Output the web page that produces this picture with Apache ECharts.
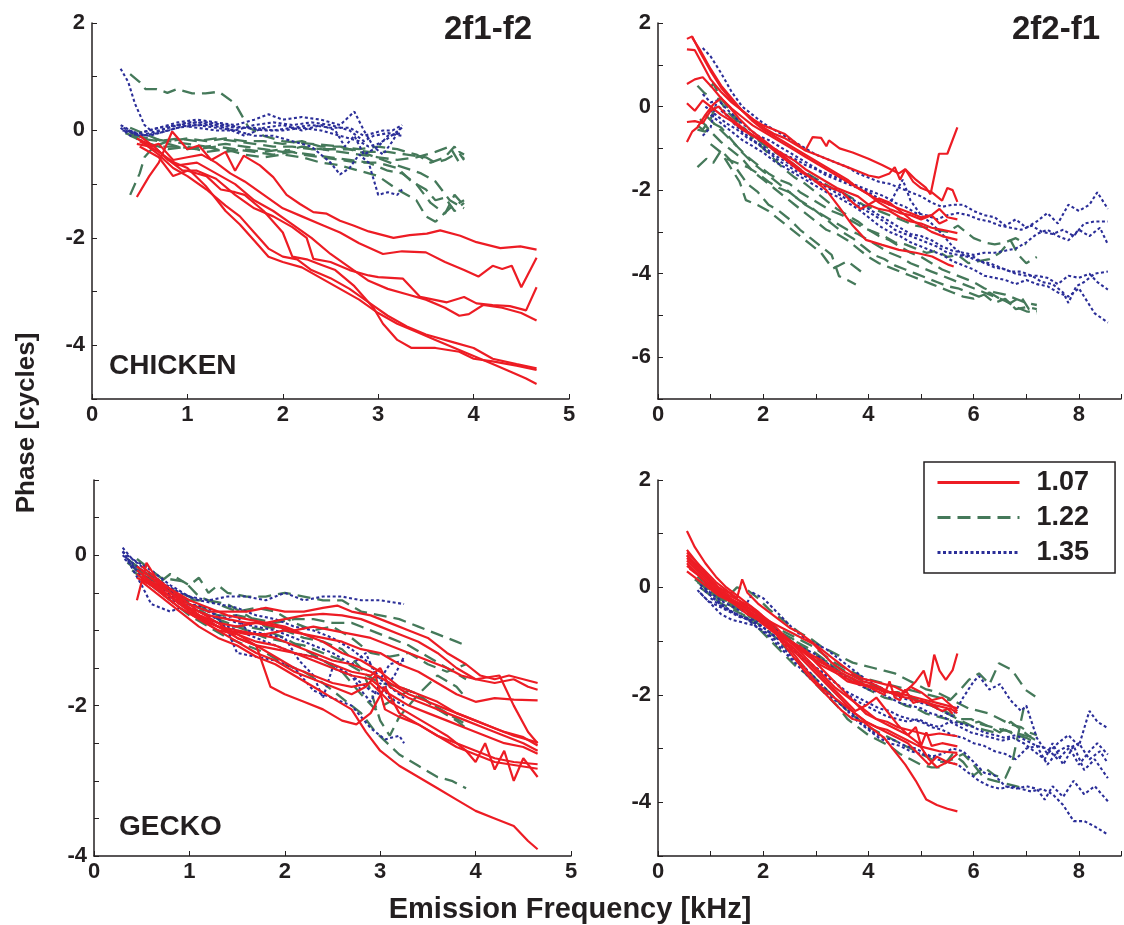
<!DOCTYPE html>
<html>
<head>
<meta charset="utf-8">
<script src="https://cdn.jsdelivr.net/npm/echarts/dist/echarts.min.js"></script>
<style>
    html, body { margin: 0; padding: 0; background: #fff; }
    #chart { width: 1124px; height: 925px; }
</style>
</head>
<body>
<div id="chart"></div>
<script>
// legend names (f2/f1 ratio)
var ratios = ['1.07', '1.22', '1.35'];

// chicken, 2f1-f2  [freq kHz, phase cycles]
var c2f1f2Red = [
    [[0.47,-1.24],[0.6,-0.85],[0.7,-0.6],[0.84,-0.02],[1.0,-0.35],[1.12,-0.28],[1.25,-0.55],[1.4,-0.4],[1.5,-0.75],[1.59,-0.47],[1.76,-0.65],[1.9,-0.87],[2.04,-1.2],[2.18,-1.37],[2.32,-1.52],[2.46,-1.55],[2.6,-1.68],[2.74,-1.77],[2.9,-1.88],[3.16,-2.0],[3.33,-1.95],[3.51,-1.92],[3.65,-1.86],[3.86,-1.96],[4.03,-2.08],[4.28,-2.19],[4.49,-2.16],[4.66,-2.22]],
    [[0.47,-0.25],[0.6,-0.3],[0.7,-0.25],[0.85,-0.55],[1.0,-0.5],[1.15,-0.45],[1.3,-0.6],[1.45,-0.8],[1.6,-0.95],[1.8,-1.2],[2.0,-1.45],[2.2,-1.6],[2.4,-1.75],[2.6,-1.9],[2.8,-2.1],[3.05,-2.3],[3.25,-2.25],[3.5,-2.27],[3.7,-2.45],[3.9,-2.6],[4.05,-2.72],[4.2,-2.52],[4.3,-2.58],[4.4,-2.52],[4.5,-2.92],[4.66,-2.37]],
    [[0.47,-0.15],[0.65,-0.3],[0.8,-0.55],[0.95,-0.75],[1.1,-0.75],[1.3,-0.9],[1.5,-1.2],[1.7,-1.45],[1.9,-1.6],[2.1,-1.8],[2.25,-2.0],[2.32,-2.39],[2.5,-2.45],[2.7,-2.6],[2.9,-2.7],[3.0,-2.73],[3.26,-2.76],[3.44,-3.1],[3.72,-3.2],[3.9,-3.1],[4.03,-3.22],[4.2,-3.25],[4.38,-3.27],[4.55,-3.35],[4.66,-2.92]],
    [[0.5,-0.2],[0.7,-0.4],[0.9,-0.65],[1.1,-0.6],[1.3,-0.8],[1.5,-1.0],[1.7,-1.3],[1.9,-1.5],[2.1,-1.75],[2.3,-2.0],[2.5,-2.3],[2.7,-2.55],[2.9,-2.8],[3.1,-2.95],[3.3,-3.05],[3.5,-3.15],[3.7,-3.3],[3.85,-3.45],[3.95,-3.42],[4.1,-3.25],[4.3,-3.3],[4.5,-3.4],[4.66,-3.54]],
    [[0.5,-0.3],[0.7,-0.5],[0.85,-0.85],[1.0,-0.75],[1.2,-0.85],[1.35,-1.1],[1.5,-1.15],[1.6,-1.2],[1.8,-1.5],[2.0,-1.9],[2.1,-2.35],[2.25,-2.4],[2.4,-2.5],[2.55,-2.6],[2.75,-2.9],[2.95,-3.3],[3.05,-3.6],[3.2,-3.9],[3.35,-4.05],[3.6,-4.05],[3.85,-4.12],[4.0,-4.25],[4.2,-4.3],[4.45,-4.38],[4.66,-4.46]],
    [[0.55,-0.25],[0.7,-0.45],[0.85,-0.7],[1.0,-0.85],[1.2,-1.1],[1.4,-1.4],[1.55,-1.6],[1.7,-1.9],[1.85,-2.2],[2.0,-2.35],[2.15,-2.4],[2.3,-2.6],[2.5,-2.75],[2.7,-2.95],[2.9,-3.2],[3.1,-3.45],[3.3,-3.65],[3.5,-3.8],[3.8,-3.95],[4.0,-4.05],[4.2,-4.25],[4.45,-4.35],[4.66,-4.43]],
    [[0.5,-0.1],[0.65,-0.3],[0.8,-0.55],[1.0,-0.7],[1.2,-1.05],[1.4,-1.5],[1.55,-1.75],[1.7,-2.05],[1.85,-2.35],[2.0,-2.45],[2.2,-2.55],[2.4,-2.75],[2.6,-2.95],[2.8,-3.15],[3.0,-3.4],[3.2,-3.6],[3.4,-3.75],[3.6,-3.9],[3.8,-4.05],[4.0,-4.2],[4.2,-4.35],[4.4,-4.5],[4.55,-4.62],[4.66,-4.72]]
];
var c2f1f2Green = [
    [[0.4,1.05],[0.5,0.9],[0.56,0.77],[0.68,0.77],[0.79,0.7],[0.89,0.77],[1.05,0.69],[1.19,0.69],[1.33,0.72],[1.5,0.5],[1.64,0.06],[1.8,-0.1],[2.0,-0.2],[2.3,-0.25],[2.6,-0.3],[2.9,-0.45],[3.2,-0.65],[3.45,-0.8],[3.6,-0.95],[3.75,-1.3],[3.9,-1.45]],
    [[0.4,-1.2],[0.5,-0.8],[0.55,-0.5],[0.65,-0.3],[0.8,-0.2],[1.0,-0.25],[1.2,-0.3],[1.4,-0.25],[1.6,-0.3],[1.8,-0.35],[2.0,-0.4],[2.2,-0.3],[2.4,-0.35],[2.6,-0.4],[2.8,-0.45],[3.0,-0.5],[3.2,-0.55],[3.4,-0.5],[3.6,-0.4],[3.75,-0.3],[3.85,-0.6],[3.9,-0.5]],
    [[0.35,-0.05],[0.5,-0.15],[0.7,-0.2],[0.9,-0.15],[1.1,-0.2],[1.3,-0.15],[1.5,-0.2],[1.7,-0.25],[1.9,-0.3],[2.1,-0.3],[2.3,-0.35],[2.5,-0.35],[2.7,-0.35],[2.9,-0.4],[3.1,-0.4],[3.3,-0.45],[3.5,-0.5],[3.6,-0.6],[3.7,-0.55],[3.85,-0.4],[3.9,-0.45]],
    [[0.38,0.0],[0.5,-0.2],[0.7,-0.3],[0.9,-0.3],[1.1,-0.35],[1.3,-0.3],[1.5,-0.35],[1.7,-0.4],[1.9,-0.45],[2.1,-0.4],[2.3,-0.45],[2.5,-0.5],[2.7,-0.55],[2.9,-0.6],[3.1,-0.75],[3.25,-0.8],[3.4,-1.0],[3.55,-1.35],[3.7,-1.55],[3.8,-1.2],[3.9,-1.4]],
    [[0.4,-0.1],[0.6,-0.25],[0.8,-0.35],[1.0,-0.3],[1.2,-0.4],[1.4,-0.35],[1.6,-0.45],[1.8,-0.5],[2.0,-0.45],[2.2,-0.5],[2.4,-0.6],[2.6,-0.65],[2.8,-0.75],[3.0,-0.85],[3.2,-1.1],[3.4,-1.3],[3.5,-1.6],[3.6,-1.7],[3.75,-1.45],[3.9,-1.3]],
    [[0.45,-0.1],[0.6,-0.15],[0.8,-0.2],[1.0,-0.15],[1.2,-0.2],[1.4,-0.15],[1.6,-0.2],[1.8,-0.2],[2.0,-0.25],[2.2,-0.2],[2.4,-0.3],[2.6,-0.3],[2.8,-0.35],[3.0,-0.3],[3.2,-0.35],[3.4,-0.45],[3.55,-0.6],[3.7,-0.5],[3.8,-0.3],[3.9,-0.55]],
    [[0.4,0.05],[0.6,-0.1],[0.8,-0.25],[1.0,-0.35],[1.2,-0.3],[1.4,-0.4],[1.6,-0.35],[1.8,-0.4],[2.0,-0.35],[2.2,-0.45],[2.4,-0.5],[2.6,-0.55],[2.8,-0.6],[3.0,-0.6],[3.2,-0.7],[3.35,-0.95],[3.5,-1.1],[3.6,-1.3],[3.7,-1.25],[3.8,-1.5],[3.9,-1.35]]
];
var c2f1f2Blue = [
    [[0.3,1.15],[0.38,0.9],[0.45,0.5],[0.55,0.1],[0.65,-0.05],[0.8,0.05],[1.0,0.15],[1.2,0.15],[1.4,0.1],[1.6,0.05],[1.8,0.0],[2.0,0.0],[2.2,0.05],[2.4,0.0],[2.6,-0.1],[2.8,-0.2],[2.9,-0.3],[3.0,-0.25],[3.1,-0.15],[3.25,0.05]],
    [[0.3,0.05],[0.4,-0.1],[0.5,-0.05],[0.7,0.05],[0.9,0.15],[1.1,0.2],[1.3,0.15],[1.5,0.1],[1.7,0.2],[1.85,0.3],[2.0,0.2],[2.2,0.25],[2.4,0.2],[2.6,0.1],[2.75,0.35],[2.85,0.0],[2.95,-0.3],[3.05,-0.45],[3.15,-0.2],[3.25,0.1]],
    [[0.3,0.1],[0.45,-0.05],[0.6,-0.1],[0.8,0.0],[1.0,0.1],[1.2,0.1],[1.4,0.05],[1.6,-0.1],[1.8,0.05],[2.0,0.1],[2.2,0.0],[2.4,0.1],[2.55,0.0],[2.65,-0.3],[2.75,-0.1],[2.85,-0.45],[3.0,-0.3],[3.1,-0.1],[3.25,-0.05]],
    [[0.35,0.0],[0.5,-0.1],[0.7,0.0],[0.9,0.1],[1.1,0.05],[1.3,0.0],[1.5,0.0],[1.7,-0.1],[1.9,-0.1],[2.1,-0.2],[2.3,-0.3],[2.5,-0.6],[2.6,-0.82],[2.7,-0.7],[2.8,-0.45],[2.9,-0.6],[3.0,-1.2],[3.1,-1.15],[3.2,-1.2],[3.25,-1.1]],
    [[0.32,0.0],[0.5,-0.05],[0.7,0.05],[0.9,0.1],[1.1,0.15],[1.3,0.1],[1.5,0.05],[1.7,0.05],[1.9,0.0],[2.1,0.05],[2.3,0.1],[2.5,0.05],[2.7,0.05],[2.85,-0.1],[2.95,-0.05],[3.05,0.0],[3.15,0.0],[3.25,0.1]],
    [[0.33,0.05],[0.5,-0.1],[0.7,-0.05],[0.9,0.05],[1.1,0.1],[1.3,0.05],[1.5,0.0],[1.7,0.1],[1.9,0.15],[2.1,0.1],[2.3,0.15],[2.5,0.1],[2.7,0.0],[2.85,-0.2],[2.95,-0.1],[3.1,-0.05],[3.25,-0.1]]
];

// chicken, 2f2-f1
var c2f2f1Red = [
    [[0.55,1.62],[0.65,1.68],[0.8,1.3],[1.0,0.85],[1.2,0.45],[1.4,0.15],[1.6,-0.1],[1.8,-0.3],[2.0,-0.5],[2.2,-0.65],[2.4,-0.75],[2.6,-0.9],[2.8,-1.05],[2.94,-0.73],[3.1,-0.75],[3.2,-0.95],[3.25,-0.81],[3.45,-1.0],[3.7,-1.1],[4.0,-1.25],[4.26,-1.4],[4.58,-1.6],[4.7,-1.5],[4.9,-1.75],[5.09,-1.94],[5.18,-2.1],[5.34,-1.13],[5.5,-1.13],[5.69,-0.5]],
    [[0.55,1.37],[0.7,1.35],[0.85,1.0],[1.0,0.65],[1.2,0.35],[1.4,0.1],[1.6,-0.1],[1.8,-0.3],[2.0,-0.45],[2.2,-0.55],[2.4,-0.65],[2.6,-0.85],[2.8,-1.05],[3.0,-1.15],[3.2,-1.25],[3.4,-1.35],[3.6,-1.45],[3.8,-1.55],[4.0,-1.65],[4.2,-1.7],[4.4,-1.6],[4.5,-1.45],[4.6,-1.75],[4.7,-1.5],[4.85,-1.8],[5.0,-1.95],[5.2,-2.05],[5.4,-2.25],[5.5,-1.95],[5.6,-2.0],[5.69,-2.28]],
    [[0.55,0.54],[0.7,0.65],[0.85,0.7],[1.0,0.5],[1.2,0.2],[1.4,-0.05],[1.6,-0.25],[1.8,-0.45],[2.0,-0.6],[2.2,-0.75],[2.4,-0.9],[2.6,-1.05],[2.8,-1.2],[3.0,-1.35],[3.2,-1.5],[3.4,-1.65],[3.6,-1.8],[3.8,-1.95],[4.0,-2.1],[4.2,-2.25],[4.4,-2.35],[4.6,-2.45],[4.8,-2.55],[5.0,-2.65],[5.2,-2.6],[5.35,-2.45],[5.5,-2.65],[5.69,-2.7]],
    [[0.55,0.08],[0.7,-0.1],[0.85,0.15],[1.0,0.0],[1.2,-0.2],[1.4,-0.35],[1.6,-0.55],[1.8,-0.7],[2.0,-0.85],[2.2,-1.0],[2.4,-1.15],[2.6,-1.3],[2.8,-1.5],[3.0,-1.65],[3.2,-1.8],[3.4,-1.95],[3.6,-2.05],[3.8,-2.15],[4.0,-2.35],[4.2,-2.45],[4.4,-2.5],[4.6,-2.65],[4.8,-2.75],[5.0,-2.8],[5.2,-2.9],[5.4,-2.95],[5.69,-3.03]],
    [[0.55,-0.37],[0.7,-0.35],[0.85,-0.4],[1.0,-0.1],[1.15,0.0],[1.3,-0.2],[1.5,-0.4],[1.7,-0.6],[1.9,-0.75],[2.1,-0.95],[2.3,-1.15],[2.5,-1.35],[2.7,-1.55],[2.9,-1.7],[3.1,-1.85],[3.3,-1.95],[3.5,-2.05],[3.7,-2.3],[3.85,-2.45],[4.0,-2.35],[4.2,-2.2],[4.4,-2.3],[4.6,-2.5],[4.8,-2.7],[5.0,-2.85],[5.2,-3.0],[5.4,-3.1],[5.69,-3.19]],
    [[0.55,-0.85],[0.65,-0.6],[0.75,-0.5],[0.9,-0.2],[1.05,0.05],[1.2,0.2],[1.35,0.0],[1.55,-0.3],[1.75,-0.55],[2.0,-0.8],[2.25,-1.05],[2.5,-1.3],[2.75,-1.55],[3.0,-1.8],[3.2,-2.0],[3.44,-2.4],[3.7,-2.85],[3.95,-3.19],[4.26,-3.31],[4.58,-3.43],[4.9,-3.5],[5.21,-3.59],[5.53,-3.79],[5.62,-3.83]],
    [[0.65,1.65],[0.8,1.35],[1.0,0.9],[1.2,0.5],[1.4,0.2],[1.6,-0.1],[1.8,-0.35],[2.0,-0.55],[2.2,-0.7],[2.4,-0.85],[2.6,-1.0],[2.8,-1.15],[3.0,-1.3],[3.2,-1.45],[3.4,-1.6],[3.6,-1.75],[3.8,-1.95],[4.0,-2.1],[4.2,-2.3],[4.4,-2.45],[4.6,-2.55],[4.8,-2.6],[5.0,-2.7],[5.2,-2.6],[5.35,-2.8],[5.5,-2.71]]
];
var c2f2f1Green = [
    [[0.75,0.5],[0.9,0.3],[1.05,0.55],[1.2,0.2],[1.4,-0.15],[1.6,-0.45],[1.8,-0.75],[2.0,-1.0],[2.2,-1.25],[2.4,-1.5],[2.6,-1.7],[2.8,-1.85],[3.0,-2.05],[3.2,-2.25],[3.4,-2.45],[3.6,-2.6],[3.8,-2.75],[4.0,-2.95],[4.2,-3.1],[4.4,-3.2],[4.6,-3.35],[4.8,-3.5],[5.0,-3.6],[5.2,-3.75],[5.4,-3.9],[5.6,-4.0],[5.8,-4.1],[6.0,-4.2],[6.2,-4.35],[6.4,-4.45],[6.6,-4.5],[6.8,-4.6],[7.0,-4.7],[7.2,-4.75]],
    [[0.75,-0.45],[0.85,-0.55],[1.0,-0.3],[1.15,0.2],[1.3,-0.1],[1.5,-0.35],[1.7,-0.6],[1.9,-0.8],[2.1,-1.0],[2.3,-1.15],[2.5,-1.3],[2.7,-1.5],[2.9,-1.65],[3.1,-1.8],[3.3,-1.95],[3.5,-2.05],[3.7,-2.2],[3.9,-2.35],[4.1,-2.45],[4.3,-2.55],[4.5,-2.65],[4.7,-2.75],[4.9,-2.85],[5.1,-2.9],[5.3,-2.95],[5.5,-3.0],[5.7,-2.85],[5.85,-3.0],[6.0,-3.15],[6.2,-3.25],[6.4,-3.3],[6.6,-3.25],[6.8,-3.15],[7.0,-3.3]],
    [[0.75,-0.55],[0.9,-0.6],[1.05,-0.4],[1.2,-0.5],[1.4,-0.8],[1.6,-1.1],[1.8,-1.35],[2.0,-1.55],[2.2,-1.75],[2.4,-1.95],[2.6,-2.15],[2.8,-2.35],[3.0,-2.5],[3.2,-2.65],[3.4,-2.8],[3.6,-2.95],[3.8,-3.05],[4.0,-3.2],[4.2,-3.35],[4.4,-3.5],[4.6,-3.6],[4.8,-3.75],[5.0,-3.85],[5.2,-3.95],[5.4,-4.05],[5.6,-4.15],[5.8,-4.25],[6.0,-4.35],[6.2,-4.45],[6.4,-4.55],[6.6,-4.65],[6.8,-4.8],[7.0,-4.9],[7.2,-4.95]],
    [[0.75,-1.45],[0.92,-1.25],[1.05,-1.35],[1.2,-1.05],[1.35,-1.25],[1.5,-1.5],[1.7,-1.85],[1.9,-2.05],[2.1,-2.35],[2.3,-2.5],[2.5,-2.7],[2.7,-2.95],[2.9,-3.15],[3.1,-3.35],[3.3,-3.55],[3.44,-4.06],[3.6,-4.15],[3.76,-4.26]],
    [[1.0,-0.9],[1.2,-1.1],[1.4,-1.5],[1.55,-1.8],[1.67,-2.24],[1.9,-2.36],[2.1,-2.5],[2.3,-2.7],[2.5,-2.9],[2.7,-3.1],[2.9,-3.3],[3.1,-3.5],[3.32,-3.88],[3.45,-3.8],[3.6,-3.7],[3.89,-3.98]],
    [[0.8,-0.3],[1.0,-0.6],[1.2,-0.85],[1.4,-1.05],[1.6,-1.25],[1.8,-1.55],[2.0,-1.75],[2.2,-1.95],[2.4,-2.15],[2.6,-2.35],[2.8,-2.55],[3.0,-2.75],[3.2,-2.95],[3.4,-3.05],[3.6,-3.2],[3.8,-3.4],[4.0,-3.6],[4.2,-3.75],[4.4,-3.85],[4.6,-3.95],[4.8,-4.05],[5.0,-4.15],[5.2,-4.25],[5.4,-4.35],[5.6,-4.45],[5.8,-4.55],[6.0,-4.6],[6.2,-4.5],[6.4,-4.7],[6.6,-4.6],[6.8,-4.85],[7.0,-4.8],[7.2,-4.85]],
    [[0.9,-0.2],[1.1,-0.45],[1.3,-0.7],[1.5,-0.95],[1.7,-1.2],[1.9,-1.4],[2.1,-1.6],[2.3,-1.75],[2.5,-1.85],[2.7,-2.05],[2.9,-2.2],[3.1,-2.35],[3.3,-2.5],[3.5,-2.6],[3.7,-2.75],[3.9,-2.9],[4.1,-3.0],[4.3,-3.1],[4.5,-3.25],[4.7,-3.3],[4.9,-3.4],[5.1,-3.5],[5.3,-3.45],[5.5,-3.6],[5.7,-3.55],[5.9,-3.75],[6.1,-3.7],[6.3,-3.65],[6.5,-3.5],[6.7,-3.2],[6.85,-3.55],[7.0,-3.75],[7.2,-3.6]],
    [[1.3,-1.25],[1.5,-1.35],[1.7,-1.45],[1.9,-1.6],[2.1,-1.8],[2.3,-1.95],[2.5,-2.05],[2.7,-2.25],[2.9,-2.4],[3.1,-2.6],[3.3,-2.8],[3.5,-3.0],[3.7,-3.15],[3.9,-3.35],[4.1,-3.55],[4.3,-3.65],[4.5,-3.8],[4.7,-3.9],[4.9,-4.0],[5.1,-4.1],[5.3,-4.2],[5.5,-4.3],[5.7,-4.35],[5.9,-4.45],[6.1,-4.55],[6.3,-4.45],[6.5,-4.6],[6.7,-4.7],[6.9,-4.55],[7.05,-4.85],[7.2,-4.9]]
];
var c2f2f1Blue = [
    [[0.85,1.4],[1.0,1.2],[1.2,0.8],[1.4,0.35],[1.6,0.0],[1.8,-0.2],[2.0,-0.4],[2.2,-0.55],[2.4,-0.7],[2.6,-0.85],[2.8,-1.0],[3.0,-1.15],[3.2,-1.25],[3.4,-1.35],[3.6,-1.45],[3.8,-1.6],[4.0,-1.7],[4.2,-1.8],[4.4,-1.85],[4.6,-1.95],[4.8,-2.05],[5.0,-2.15],[5.2,-2.3],[5.4,-2.4],[5.6,-2.35],[5.8,-2.35],[6.0,-2.5],[6.2,-2.6],[6.4,-2.65],[6.6,-2.85],[6.8,-2.7],[7.0,-2.9],[7.2,-2.75],[7.4,-2.55],[7.6,-2.8],[7.8,-2.35],[8.0,-2.5],[8.2,-2.35],[8.35,-2.05],[8.55,-2.45]],
    [[0.85,0.3],[1.0,0.1],[1.15,0.15],[1.3,-0.05],[1.5,-0.3],[1.7,-0.5],[1.9,-0.7],[2.1,-0.8],[2.3,-0.95],[2.5,-1.1],[2.7,-1.25],[2.9,-1.4],[3.1,-1.55],[3.3,-1.65],[3.5,-1.75],[3.7,-1.85],[3.9,-1.95],[4.1,-2.05],[4.3,-2.15],[4.5,-2.3],[4.7,-2.4],[4.9,-2.55],[5.1,-2.6],[5.3,-2.7],[5.5,-2.6],[5.7,-2.55],[5.9,-2.6],[6.1,-2.7],[6.3,-2.75],[6.5,-2.85],[6.7,-2.9],[6.9,-2.95],[7.1,-2.85],[7.3,-3.0],[7.5,-3.05],[7.7,-2.95],[7.9,-3.1],[8.1,-2.8],[8.3,-2.75],[8.55,-2.75]],
    [[0.85,-0.7],[1.0,-0.5],[1.1,0.05],[1.25,-0.1],[1.4,-0.35],[1.6,-0.6],[1.8,-0.8],[2.0,-0.95],[2.2,-1.15],[2.4,-1.3],[2.6,-1.45],[2.8,-1.6],[3.0,-1.75],[3.2,-1.9],[3.4,-2.0],[3.6,-2.15],[3.8,-2.3],[4.0,-2.45],[4.2,-2.6],[4.4,-2.75],[4.6,-2.9],[4.8,-3.05],[5.0,-3.1],[5.2,-3.2],[5.4,-3.35],[5.6,-3.45],[5.8,-3.5],[6.0,-3.55],[6.2,-3.5],[6.4,-3.5],[6.6,-3.45],[6.8,-3.4],[7.0,-3.25],[7.2,-3.05],[7.4,-2.95],[7.6,-3.1],[7.8,-3.2],[8.0,-2.95],[8.2,-3.1],[8.4,-2.9],[8.55,-3.3]],
    [[0.9,0.0],[1.1,-0.2],[1.3,-0.4],[1.5,-0.55],[1.7,-0.75],[1.9,-0.9],[2.1,-1.1],[2.3,-1.3],[2.5,-1.45],[2.7,-1.6],[2.9,-1.75],[3.1,-1.85],[3.3,-2.0],[3.5,-2.15],[3.7,-2.3],[3.9,-2.45],[4.1,-2.6],[4.3,-2.75],[4.5,-2.95],[4.7,-3.05],[4.9,-3.15],[5.1,-3.25],[5.3,-3.35],[5.5,-3.5],[5.7,-3.55],[5.9,-3.6],[6.1,-3.7],[6.3,-3.75],[6.5,-3.85],[6.7,-3.95],[6.9,-3.95],[7.1,-4.05],[7.3,-4.2],[7.5,-4.25],[7.7,-4.45],[7.8,-4.7],[7.95,-4.3],[8.1,-4.2],[8.3,-4.0],[8.55,-3.95]],
    [[1.0,-0.2],[1.2,-0.4],[1.4,-0.6],[1.6,-0.8],[1.8,-0.95],[2.0,-1.1],[2.2,-1.3],[2.4,-1.45],[2.6,-1.6],[2.8,-1.75],[3.0,-1.9],[3.2,-2.05],[3.4,-2.15],[3.6,-2.3],[3.8,-2.45],[4.0,-2.65],[4.2,-2.85],[4.4,-3.0],[4.6,-3.1],[4.8,-3.25],[5.0,-3.35],[5.2,-3.45],[5.4,-3.55],[5.6,-3.7],[5.8,-3.8],[6.0,-3.9],[6.2,-4.05],[6.4,-4.1],[6.6,-4.15],[6.8,-4.25],[7.0,-4.15],[7.2,-4.25],[7.4,-4.3],[7.6,-4.45],[7.8,-4.55],[8.0,-4.35],[8.15,-4.65],[8.3,-4.95],[8.55,-5.17]],
    [[1.2,-0.1],[1.4,-0.3],[1.6,-0.5],[1.8,-0.7],[2.0,-0.85],[2.2,-1.0],[2.4,-1.15],[2.6,-1.25],[2.8,-1.4],[3.0,-1.5],[3.2,-1.65],[3.4,-1.75],[3.6,-1.85],[3.8,-1.95],[4.0,-2.05],[4.2,-2.2],[4.4,-2.35],[4.5,-2.1],[4.65,-1.75],[4.8,-2.25],[5.0,-2.6],[5.2,-2.8],[5.4,-3.05],[5.6,-3.35],[5.8,-3.55],[6.0,-3.6],[6.2,-3.75],[6.4,-3.85],[6.6,-3.9],[6.8,-4.0],[7.0,-4.05],[7.2,-4.05],[7.4,-4.1],[7.6,-4.25],[7.8,-4.05],[8.0,-4.1],[8.2,-4.0],[8.35,-4.2],[8.55,-4.38]]
];

// gecko, 2f1-f2
var g2f1f2Red = [
    [[0.45,-0.2],[0.6,-0.35],[0.8,-0.5],[1.0,-0.65],[1.2,-0.75],[1.4,-0.75],[1.6,-0.75],[1.8,-0.7],[2.0,-0.75],[2.2,-0.75],[2.4,-0.7],[2.55,-0.67],[2.7,-0.75],[2.9,-0.8],[3.1,-0.9],[3.3,-1.0],[3.5,-1.1],[3.7,-1.3],[3.9,-1.45],[4.05,-1.6],[4.2,-1.65],[4.35,-1.6],[4.5,-1.65],[4.65,-1.7]],
    [[0.45,-0.25],[0.6,-0.4],[0.8,-0.55],[1.0,-0.7],[1.2,-0.8],[1.4,-0.85],[1.6,-0.9],[1.8,-0.9],[2.0,-0.85],[2.2,-0.8],[2.4,-0.78],[2.6,-0.8],[2.8,-0.85],[3.0,-0.95],[3.2,-1.05],[3.4,-1.15],[3.6,-1.3],[3.8,-1.5],[4.0,-1.65],[4.2,-1.7],[4.4,-1.65],[4.55,-1.75],[4.65,-1.79]],
    [[0.45,-0.3],[0.6,-0.4],[0.8,-0.55],[1.0,-0.75],[1.2,-0.9],[1.4,-1.0],[1.6,-1.05],[1.8,-1.05],[2.0,-1.0],[2.2,-1.05],[2.4,-1.1],[2.6,-1.15],[2.8,-1.25],[3.0,-1.3],[3.2,-1.45],[3.4,-1.55],[3.6,-1.7],[3.8,-1.85],[4.0,-1.95],[4.2,-1.9],[4.4,-1.92],[4.65,-1.93]],
    [[0.5,-0.2],[0.7,-0.4],[0.9,-0.6],[1.1,-0.8],[1.3,-0.9],[1.5,-0.95],[1.7,-0.9],[1.9,-0.95],[2.1,-1.0],[2.3,-0.95],[2.5,-1.0],[2.7,-1.05],[2.9,-1.1],[3.1,-1.2],[3.3,-1.3],[3.5,-1.4],[3.7,-1.5],[3.85,-1.6],[4.0,-1.65],[4.25,-1.6],[4.4,-2.0],[4.55,-2.35],[4.65,-2.5]],
    [[0.5,-0.2],[0.7,-0.4],[0.9,-0.6],[1.1,-0.8],[1.3,-0.95],[1.5,-1.0],[1.7,-1.05],[1.9,-1.1],[2.1,-1.2],[2.3,-1.3],[2.5,-1.4],[2.7,-1.45],[2.9,-1.55],[3.1,-1.7],[3.3,-1.85],[3.5,-1.95],[3.7,-2.05],[3.9,-2.15],[4.1,-2.25],[4.3,-2.35],[4.5,-2.42],[4.65,-2.53]],
    [[0.5,-0.15],[0.7,-0.35],[0.9,-0.55],[1.1,-0.75],[1.3,-0.9],[1.5,-1.1],[1.7,-1.2],[1.9,-1.25],[2.1,-1.3],[2.3,-1.35],[2.5,-1.45],[2.7,-1.55],[2.9,-1.6],[3.0,-1.5],[3.1,-1.75],[3.3,-1.9],[3.5,-2.0],[3.7,-2.1],[3.9,-2.2],[4.1,-2.3],[4.3,-2.4],[4.5,-2.5],[4.65,-2.6]],
    [[0.5,-0.3],[0.7,-0.45],[0.9,-0.65],[1.1,-0.8],[1.3,-0.95],[1.5,-1.05],[1.7,-1.15],[1.9,-1.2],[2.1,-1.3],[2.3,-1.4],[2.5,-1.5],[2.7,-1.6],[2.9,-1.65],[3.1,-1.85],[3.3,-2.0],[3.5,-2.1],[3.7,-2.2],[3.9,-2.3],[4.1,-2.4],[4.3,-2.5],[4.5,-2.55],[4.65,-2.64]],
    [[0.5,-0.25],[0.7,-0.5],[0.9,-0.7],[1.1,-0.85],[1.3,-1.0],[1.5,-1.15],[1.7,-1.3],[1.9,-1.4],[2.1,-1.55],[2.3,-1.65],[2.5,-1.75],[2.7,-1.85],[2.85,-1.75],[2.95,-1.6],[3.05,-2.05],[3.2,-2.15],[3.4,-2.25],[3.6,-2.4],[3.8,-2.5],[4.0,-2.6],[4.2,-2.7],[4.4,-2.75],[4.65,-2.78]],
    [[0.45,-0.6],[0.55,-0.1],[0.7,-0.4],[0.9,-0.6],[1.1,-0.8],[1.3,-0.95],[1.5,-1.1],[1.7,-1.2],[1.9,-1.35],[2.1,-1.5],[2.3,-1.6],[2.5,-1.7],[2.7,-1.75],[2.9,-1.7],[3.1,-1.95],[3.3,-2.1],[3.5,-2.25],[3.7,-2.4],[3.9,-2.6],[4.0,-2.75],[4.1,-2.5],[4.2,-2.85],[4.3,-2.6],[4.4,-3.0],[4.5,-2.7],[4.65,-2.95]],
    [[0.5,-0.3],[0.7,-0.5],[0.9,-0.7],[1.1,-0.85],[1.3,-1.0],[1.5,-1.05],[1.7,-1.2],[1.85,-1.75],[2.0,-1.85],[2.2,-1.95],[2.4,-2.05],[2.6,-2.2],[2.75,-2.25],[2.9,-2.1],[3.05,-1.75],[3.2,-2.1],[3.4,-2.25],[3.6,-2.4],[3.8,-2.55],[4.0,-2.65],[4.2,-2.75],[4.45,-2.8],[4.65,-2.84]],
    [[0.5,-0.35],[0.7,-0.55],[0.9,-0.75],[1.1,-0.95],[1.3,-1.1],[1.5,-1.2],[1.7,-1.35],[1.9,-1.45],[2.1,-1.6],[2.3,-1.75],[2.5,-1.9],[2.7,-2.05],[2.85,-2.35],[3.0,-2.6],[3.2,-2.8],[3.4,-2.95],[3.6,-3.1],[3.8,-3.25],[4.0,-3.4],[4.2,-3.5],[4.4,-3.6],[4.55,-3.8],[4.65,-3.91]],
    [[0.45,-0.15],[0.6,-0.3],[0.8,-0.45],[1.0,-0.6],[1.2,-0.7],[1.4,-0.8],[1.6,-0.85],[1.8,-0.9],[2.0,-0.95],[2.2,-1.05],[2.4,-1.15],[2.6,-1.3],[2.8,-1.4],[3.0,-1.55],[3.2,-1.75],[3.4,-1.85],[3.6,-1.95],[3.8,-2.1],[4.0,-2.2],[4.2,-2.3],[4.4,-2.4],[4.65,-2.49]]
];
var g2f1f2Green = [
    [[0.35,-0.05],[0.5,-0.2],[0.7,-0.35],[0.8,-0.25],[1.0,-0.4],[1.1,-0.3],[1.2,-0.5],[1.3,-0.4],[1.4,-0.5],[1.6,-0.55],[1.8,-0.55],[2.0,-0.5],[2.2,-0.55],[2.4,-0.6],[2.6,-0.6],[2.8,-0.75],[3.0,-0.8],[3.2,-0.85],[3.4,-0.95],[3.6,-1.05],[3.8,-1.15],[3.9,-1.2]],
    [[0.35,-0.1],[0.5,-0.25],[0.7,-0.4],[0.9,-0.55],[1.1,-0.7],[1.3,-0.8],[1.5,-0.8],[1.7,-0.85],[1.9,-0.9],[2.1,-0.85],[2.3,-0.85],[2.5,-0.9],[2.7,-0.9],[2.9,-1.0],[3.1,-1.1],[3.3,-1.2],[3.5,-1.35],[3.7,-1.5],[3.9,-1.65]],
    [[0.4,-0.15],[0.6,-0.3],[0.8,-0.5],[1.0,-0.65],[1.2,-0.8],[1.4,-0.9],[1.6,-1.0],[1.8,-1.1],[2.0,-1.15],[2.2,-1.2],[2.4,-1.3],[2.6,-1.4],[2.8,-1.55],[3.0,-1.7],[3.2,-1.75],[3.4,-1.85],[3.6,-2.05],[3.8,-2.2],[3.9,-2.3]],
    [[0.4,-0.2],[0.6,-0.4],[0.8,-0.6],[1.0,-0.8],[1.2,-0.95],[1.4,-1.1],[1.6,-1.2],[1.8,-1.3],[2.0,-1.45],[2.2,-1.55],[2.4,-1.7],[2.6,-1.9],[2.8,-2.1],[2.95,-2.35],[3.2,-2.65],[3.4,-2.8],[3.6,-2.95],[3.75,-3.0],[3.9,-3.1]],
    [[0.45,-0.2],[0.6,-0.35],[0.8,-0.5],[1.0,-0.6],[1.2,-0.6],[1.4,-0.65],[1.6,-0.8],[1.8,-0.95],[2.0,-1.0],[2.2,-1.1],[2.4,-1.15],[2.6,-1.25],[2.8,-1.5],[2.9,-1.8],[3.0,-2.2],[3.1,-2.4],[3.2,-2.15],[3.4,-1.85],[3.6,-1.6],[3.8,-1.75],[3.9,-1.9]],
    [[0.4,-0.1],[0.6,-0.3],[0.8,-0.45],[1.0,-0.55],[1.2,-0.75],[1.4,-0.95],[1.6,-0.95],[1.8,-1.0],[2.0,-1.1],[2.2,-1.25],[2.4,-1.4],[2.6,-1.55],[2.8,-1.85],[2.95,-2.05],[3.1,-1.95],[3.3,-1.8],[3.5,-1.95],[3.7,-2.1],[3.9,-2.25]],
    [[0.45,-0.05],[0.7,-0.3],[0.95,-0.35],[1.1,-0.55],[1.3,-0.65],[1.5,-0.75],[1.7,-0.7],[1.9,-0.75],[2.1,-0.9],[2.3,-1.0],[2.5,-0.95],[2.7,-1.1],[2.9,-1.3],[3.1,-1.35],[3.3,-1.3],[3.5,-1.45],[3.7,-1.55],[3.9,-1.45]]
];
var g2f1f2Blue = [
    [[0.3,0.1],[0.4,-0.05],[0.6,-0.2],[0.8,-0.4],[1.0,-0.55],[1.2,-0.6],[1.4,-0.55],[1.6,-0.55],[1.8,-0.6],[2.0,-0.5],[2.2,-0.6],[2.4,-0.55],[2.6,-0.55],[2.8,-0.6],[3.0,-0.6],[3.25,-0.65]],
    [[0.3,0.05],[0.5,-0.4],[0.6,-0.65],[0.8,-0.75],[1.0,-0.65],[1.2,-0.7],[1.4,-1.0],[1.5,-1.3],[1.7,-1.35],[1.9,-1.4],[2.1,-1.5],[2.3,-1.8],[2.5,-1.9],[2.7,-2.0],[2.9,-2.3],[3.05,-2.45],[3.2,-2.4],[3.25,-2.5]],
    [[0.3,0.0],[0.5,-0.2],[0.7,-0.4],[0.9,-0.55],[1.1,-0.75],[1.3,-0.85],[1.5,-0.8],[1.6,-1.0],[1.8,-1.05],[2.0,-1.1],[2.15,-1.4],[2.3,-1.6],[2.4,-1.9],[2.5,-1.5],[2.7,-1.6],[2.9,-1.8],[3.0,-1.85],[3.15,-1.6],[3.25,-1.35]],
    [[0.32,-0.05],[0.5,-0.25],[0.7,-0.45],[0.9,-0.6],[1.1,-0.7],[1.3,-0.8],[1.5,-0.9],[1.7,-0.95],[1.9,-1.0],[2.1,-1.1],[2.3,-1.2],[2.5,-1.3],[2.7,-1.45],[2.85,-1.3],[2.95,-1.6],[3.1,-1.75],[3.25,-1.9]],
    [[0.3,0.05],[0.5,-0.15],[0.7,-0.35],[0.9,-0.5],[1.1,-0.6],[1.3,-0.65],[1.5,-0.7],[1.7,-0.8],[1.9,-0.85],[2.1,-0.95],[2.3,-1.0],[2.5,-1.1],[2.7,-1.25],[2.9,-1.45],[3.0,-1.65],[3.1,-1.45],[3.25,-1.4]],
    [[0.33,0.0],[0.5,-0.3],[0.7,-0.5],[0.9,-0.65],[1.1,-0.8],[1.3,-0.9],[1.5,-1.0],[1.7,-1.1],[1.9,-1.2],[2.1,-1.3],[2.3,-1.35],[2.5,-1.45],[2.7,-1.6],[2.8,-1.8],[2.9,-1.95],[3.0,-1.7],[3.1,-1.9],[3.25,-2.0]]
];

// gecko, 2f2-f1
var g2f2f1Red = [
    [[0.55,0.65],[0.7,0.5],[0.9,0.3],[1.1,0.1],[1.3,-0.05],[1.5,-0.2],[1.6,0.15],[1.7,-0.1],[1.9,-0.3],[2.1,-0.45],[2.3,-0.6],[2.5,-0.75],[2.7,-0.85],[2.9,-1.0],[3.1,-1.15],[3.3,-1.3],[3.5,-1.45],[3.7,-1.6],[3.9,-1.7],[4.1,-1.75],[4.3,-1.8],[4.5,-1.85],[4.7,-1.95],[4.9,-1.75],[5.05,-1.55],[5.15,-1.85],[5.25,-1.25],[5.35,-1.55],[5.47,-1.72],[5.6,-1.54],[5.69,-1.23]],
    [[0.55,0.55],[0.7,0.4],[0.9,0.2],[1.1,0.0],[1.3,-0.15],[1.5,-0.3],[1.7,-0.45],[1.9,-0.6],[2.1,-0.75],[2.3,-0.85],[2.5,-1.0],[2.7,-1.1],[2.9,-1.25],[3.1,-1.35],[3.3,-1.5],[3.5,-1.6],[3.7,-1.7],[3.9,-1.8],[4.1,-1.85],[4.3,-1.95],[4.5,-1.95],[4.7,-2.0],[4.9,-2.05],[5.1,-2.1],[5.3,-2.15],[5.5,-2.2],[5.69,-2.25]],
    [[0.55,0.45],[0.7,0.3],[0.9,0.1],[1.1,-0.05],[1.3,-0.2],[1.5,-0.35],[1.7,-0.5],[1.9,-0.6],[2.1,-0.75],[2.3,-0.9],[2.5,-1.0],[2.7,-1.15],[2.9,-1.3],[3.1,-1.45],[3.3,-1.55],[3.5,-1.65],[3.7,-1.75],[3.9,-1.8],[4.1,-1.9],[4.3,-2.0],[4.4,-1.75],[4.5,-2.05],[4.6,-2.1],[4.7,-1.9],[4.85,-2.15],[5.0,-2.1],[5.2,-2.2],[5.4,-2.3],[5.55,-2.25],[5.69,-2.34]],
    [[0.6,0.35],[0.8,0.2],[1.0,0.0],[1.2,-0.15],[1.4,-0.25],[1.6,-0.35],[1.8,-0.5],[2.0,-0.65],[2.2,-0.8],[2.4,-0.9],[2.6,-1.05],[2.8,-1.2],[3.0,-1.35],[3.2,-1.45],[3.4,-1.6],[3.6,-1.75],[3.8,-1.8],[4.0,-1.85],[4.2,-1.9],[4.4,-1.95],[4.6,-2.0],[4.8,-1.85],[5.0,-1.95],[5.2,-2.1],[5.4,-2.05],[5.69,-2.3]],
    [[0.55,0.6],[0.75,0.4],[0.95,0.2],[1.15,0.0],[1.35,-0.1],[1.55,-0.25],[1.75,-0.4],[1.95,-0.55],[2.15,-0.65],[2.35,-0.75],[2.55,-0.85],[2.75,-0.95],[2.95,-1.05],[3.1,-1.2],[3.3,-1.4],[3.5,-1.55],[3.7,-1.65],[3.9,-1.75],[4.1,-1.8],[4.3,-1.9],[4.5,-2.0],[4.7,-2.05],[4.9,-2.1],[5.1,-2.15],[5.3,-2.2],[5.5,-2.25],[5.6,-2.35]],
    [[0.55,1.05],[0.7,0.75],[0.9,0.45],[1.1,0.2],[1.3,0.0],[1.5,-0.15],[1.7,-0.3],[1.9,-0.45],[2.1,-0.65],[2.3,-0.95],[2.5,-1.2],[2.7,-1.45],[2.9,-1.7],[3.1,-1.9],[3.3,-2.1],[3.5,-2.3],[3.7,-2.45],[3.9,-2.5],[4.1,-2.65],[4.3,-2.8],[4.5,-3.05],[4.7,-3.3],[4.9,-3.6],[5.1,-3.95],[5.3,-4.05],[5.5,-4.12],[5.69,-4.17]],
    [[0.55,0.7],[0.75,0.45],[0.95,0.2],[1.15,0.0],[1.35,-0.15],[1.55,-0.25],[1.75,-0.35],[1.95,-0.5],[2.15,-0.7],[2.35,-0.95],[2.55,-1.2],[2.75,-1.45],[2.95,-1.7],[3.15,-1.9],[3.35,-2.05],[3.55,-2.2],[3.75,-2.35],[3.95,-2.5],[4.15,-2.6],[4.35,-2.7],[4.55,-2.8],[4.75,-2.9],[4.95,-3.1],[5.15,-3.3],[5.3,-3.15],[5.5,-3.25],[5.69,-3.3]],
    [[0.55,0.6],[0.75,0.35],[0.95,0.15],[1.15,-0.05],[1.35,-0.2],[1.55,-0.3],[1.75,-0.4],[1.95,-0.55],[2.15,-0.75],[2.35,-0.95],[2.55,-1.15],[2.75,-1.35],[2.95,-1.55],[3.15,-1.75],[3.35,-1.95],[3.55,-2.15],[3.75,-2.35],[3.95,-2.5],[4.15,-2.6],[4.35,-2.65],[4.55,-2.75],[4.75,-2.85],[4.95,-2.95],[5.15,-3.0],[5.35,-3.05],[5.69,-3.08]],
    [[0.55,0.5],[0.75,0.3],[0.95,0.1],[1.15,-0.05],[1.35,-0.2],[1.55,-0.3],[1.75,-0.4],[1.95,-0.5],[2.15,-0.65],[2.35,-0.85],[2.55,-1.05],[2.75,-1.25],[2.95,-1.45],[3.15,-1.65],[3.35,-1.85],[3.55,-2.0],[3.75,-2.15],[3.95,-2.35],[4.15,-2.45],[4.35,-2.55],[4.55,-2.65],[4.75,-2.75],[4.9,-2.6],[5.0,-2.95],[5.1,-2.7],[5.2,-2.95],[5.4,-2.9],[5.69,-2.96]],
    [[0.55,0.4],[0.75,0.25],[0.95,0.05],[1.15,-0.1],[1.35,-0.25],[1.55,-0.35],[1.75,-0.45],[1.95,-0.6],[2.15,-0.75],[2.35,-0.9],[2.55,-1.05],[2.75,-1.2],[2.95,-1.35],[3.15,-1.55],[3.35,-1.75],[3.55,-1.95],[3.75,-2.15],[3.95,-2.3],[4.15,-2.45],[4.35,-2.5],[4.55,-2.6],[4.75,-2.65],[4.95,-2.7],[5.15,-2.75],[5.35,-2.72],[5.69,-2.77]],
    [[0.55,0.3],[0.75,0.15],[0.95,0.0],[1.15,-0.15],[1.35,-0.25],[1.55,-0.35],[1.75,-0.45],[1.95,-0.65],[2.15,-0.8],[2.35,-0.95],[2.55,-1.1],[2.75,-1.3],[2.95,-1.5],[3.15,-1.7],[3.35,-1.9],[3.55,-2.1],[3.75,-2.3],[3.95,-2.2],[4.15,-2.05],[4.35,-2.3],[4.55,-2.55],[4.75,-2.75],[4.95,-2.9],[5.15,-3.2],[5.3,-3.35],[5.5,-3.25],[5.69,-3.1]]
];
var g2f2f1Green = [
    [[0.75,0.2],[0.95,0.05],[1.15,-0.1],[1.35,-0.15],[1.5,0.0],[1.7,-0.05],[1.9,-0.2],[2.1,-0.4],[2.3,-0.55],[2.5,-0.7],[2.7,-0.85],[2.9,-0.95],[3.1,-1.1],[3.3,-1.2],[3.5,-1.3],[3.7,-1.4],[3.9,-1.45],[4.1,-1.5],[4.3,-1.55],[4.5,-1.6],[4.7,-1.7],[4.9,-1.8],[5.1,-1.9],[5.3,-1.95],[5.5,-2.05],[5.7,-2.15],[5.9,-2.25],[6.1,-2.3],[6.3,-2.35],[6.5,-2.45],[6.7,-2.55],[6.9,-2.6],[7.05,-2.7],[7.2,-2.75]],
    [[0.75,0.15],[0.95,0.0],[1.15,-0.15],[1.35,-0.3],[1.55,-0.4],[1.75,-0.5],[1.95,-0.6],[2.15,-0.7],[2.35,-0.8],[2.55,-0.9],[2.75,-1.0],[2.95,-1.1],[3.15,-1.25],[3.35,-1.4],[3.55,-1.5],[3.75,-1.6],[3.95,-1.7],[4.15,-1.75],[4.35,-1.8],[4.55,-1.85],[4.75,-1.9],[4.95,-1.95],[5.15,-2.0],[5.35,-2.05],[5.55,-2.1],[5.75,-1.9],[5.91,-1.72],[6.1,-1.6],[6.3,-1.8],[6.48,-1.41],[6.73,-1.54],[6.99,-1.91],[7.17,-2.03]],
    [[0.8,0.1],[1.0,-0.05],[1.2,-0.2],[1.4,-0.3],[1.6,-0.4],[1.8,-0.5],[2.0,-0.6],[2.2,-0.75],[2.4,-0.9],[2.6,-1.05],[2.8,-1.2],[3.0,-1.3],[3.2,-1.45],[3.4,-1.55],[3.6,-1.65],[3.8,-1.75],[4.0,-1.8],[4.2,-1.85],[4.4,-1.95],[4.6,-2.0],[4.8,-2.05],[5.0,-2.15],[5.2,-2.2],[5.4,-2.3],[5.6,-2.4],[5.8,-2.5],[6.0,-2.6],[6.2,-2.65],[6.4,-2.7],[6.6,-2.65],[6.8,-2.75],[7.0,-2.8],[7.2,-2.9]],
    [[0.8,0.0],[1.0,-0.15],[1.2,-0.3],[1.4,-0.4],[1.6,-0.5],[1.8,-0.6],[2.0,-0.75],[2.2,-0.9],[2.4,-1.1],[2.6,-1.3],[2.8,-1.5],[3.0,-1.7],[3.2,-1.9],[3.4,-2.1],[3.6,-2.3],[3.8,-2.45],[4.0,-2.6],[4.2,-2.7],[4.4,-2.8],[4.6,-2.9],[4.8,-3.0],[5.0,-3.1],[5.2,-3.2],[5.4,-3.25],[5.6,-3.2],[5.8,-3.1],[6.0,-3.3],[6.2,-3.55],[6.4,-3.6],[6.6,-3.65],[6.8,-3.7],[7.0,-3.75]],
    [[0.7,0.15],[0.9,0.0],[1.1,-0.15],[1.3,-0.25],[1.5,-0.35],[1.7,-0.45],[1.9,-0.55],[2.1,-0.7],[2.3,-0.85],[2.5,-0.95],[2.7,-1.05],[2.9,-1.15],[3.1,-1.3],[3.3,-1.45],[3.5,-1.6],[3.7,-1.7],[3.9,-1.85],[4.1,-1.95],[4.3,-2.05],[4.5,-2.1],[4.7,-2.2],[4.9,-2.25],[5.1,-2.35],[5.3,-2.4],[5.5,-2.45],[5.7,-2.5],[5.9,-2.55],[6.1,-2.5],[6.3,-2.6],[6.5,-2.7],[6.7,-2.5],[6.9,-2.65],[7.1,-2.8],[7.2,-2.85]],
    [[1.0,-0.1],[1.2,-0.25],[1.4,-0.35],[1.6,-0.5],[1.8,-0.65],[2.0,-0.85],[2.2,-1.05],[2.4,-1.25],[2.6,-1.45],[2.8,-1.6],[3.0,-1.8],[3.2,-2.0],[3.4,-2.2],[3.6,-2.45],[3.8,-2.6],[4.0,-2.75],[4.2,-2.85],[4.4,-2.95],[4.6,-3.1],[4.8,-3.2],[5.0,-3.3],[5.2,-3.35],[5.4,-3.35],[5.6,-3.1],[5.8,-3.25],[6.0,-3.5],[6.2,-3.35],[6.4,-3.5],[6.6,-3.55],[6.73,-3.27],[6.95,-2.25]],
    [[0.75,0.1],[0.95,-0.05],[1.15,-0.2],[1.35,-0.3],[1.55,-0.4],[1.75,-0.55],[1.95,-0.65],[2.15,-0.75],[2.35,-0.85],[2.55,-0.95],[2.75,-1.1],[2.95,-1.25],[3.15,-1.35],[3.35,-1.45],[3.55,-1.55],[3.75,-1.65],[3.95,-1.75],[4.15,-1.85],[4.35,-1.95],[4.55,-1.95],[4.75,-2.0],[4.95,-2.1],[5.15,-2.15],[5.35,-2.25],[5.55,-2.35],[5.75,-2.45],[5.95,-2.45],[6.15,-2.55],[6.35,-2.6],[6.55,-2.65],[6.75,-2.7],[6.95,-2.75],[7.2,-2.8]]
];
var g2f2f1Blue = [
    [[0.8,0.05],[1.0,-0.1],[1.2,-0.25],[1.4,-0.35],[1.6,-0.45],[1.8,-0.1],[2.0,-0.2],[2.2,-0.4],[2.4,-0.6],[2.6,-0.8],[2.8,-0.95],[3.0,-1.05],[3.2,-1.15],[3.4,-1.3],[3.6,-1.45],[3.8,-1.6],[4.0,-1.75],[4.2,-1.85],[4.4,-1.95],[4.6,-2.05],[4.8,-2.1],[5.0,-2.15],[5.2,-2.2],[5.4,-2.3],[5.6,-2.4],[5.8,-2.05],[6.0,-1.75],[6.1,-1.65],[6.3,-1.9],[6.5,-1.8],[6.7,-2.1],[6.9,-2.3],[7.0,-2.2],[7.2,-2.8],[7.4,-3.1],[7.6,-2.9],[7.8,-2.75],[8.0,-2.95],[8.2,-2.3],[8.35,-2.5],[8.55,-2.62]],
    [[0.8,0.0],[1.0,-0.15],[1.2,-0.3],[1.4,-0.45],[1.6,-0.55],[1.8,-0.6],[2.0,-0.65],[2.2,-0.75],[2.4,-0.9],[2.6,-1.05],[2.8,-1.15],[3.0,-1.25],[3.2,-1.4],[3.4,-1.55],[3.6,-1.7],[3.8,-1.8],[4.0,-1.9],[4.2,-1.95],[4.4,-2.05],[4.6,-2.15],[4.8,-2.2],[5.0,-2.25],[5.2,-2.35],[5.4,-2.4],[5.6,-2.5],[5.8,-2.55],[6.0,-2.6],[6.2,-2.7],[6.4,-2.75],[6.6,-2.8],[6.8,-2.75],[7.0,-2.85],[7.2,-2.95],[7.4,-3.0],[7.6,-3.2],[7.8,-3.0],[8.0,-2.9],[8.2,-3.2],[8.4,-3.05],[8.55,-3.27]],
    [[0.75,-0.05],[0.95,-0.25],[1.15,-0.35],[1.35,-0.45],[1.55,-0.55],[1.75,-0.6],[1.95,-0.7],[2.15,-0.85],[2.35,-1.0],[2.55,-1.15],[2.75,-1.3],[2.95,-1.45],[3.15,-1.6],[3.35,-1.75],[3.55,-1.95],[3.75,-2.1],[3.95,-2.2],[4.15,-2.3],[4.35,-2.4],[4.55,-2.45],[4.75,-2.5],[4.95,-2.45],[5.15,-2.55],[5.35,-2.6],[5.55,-2.5],[5.75,-2.6],[5.95,-2.7],[6.15,-2.75],[6.35,-2.8],[6.55,-2.85],[6.75,-2.8],[6.95,-2.9],[7.15,-3.05],[7.35,-3.2],[7.5,-2.9],[7.7,-3.3],[7.9,-2.95],[8.1,-3.4],[8.3,-3.2],[8.55,-3.55]],
    [[0.8,-0.1],[1.0,-0.3],[1.2,-0.5],[1.4,-0.6],[1.6,-0.65],[1.8,-0.7],[2.0,-0.8],[2.2,-0.95],[2.4,-1.15],[2.6,-1.35],[2.8,-1.5],[3.0,-1.7],[3.2,-1.9],[3.4,-2.1],[3.6,-2.3],[3.8,-2.5],[4.0,-2.65],[4.2,-2.8],[4.4,-2.9],[4.6,-2.95],[4.8,-3.05],[5.0,-3.1],[5.2,-3.15],[5.4,-3.1],[5.6,-3.0],[5.8,-3.05],[6.0,-3.25],[6.2,-3.45],[6.4,-3.5],[6.6,-3.7],[6.8,-3.75],[7.0,-3.7],[7.2,-3.75],[7.35,-3.95],[7.5,-3.7],[7.7,-3.9],[7.9,-3.6],[8.1,-3.85],[8.3,-3.7],[8.55,-3.98]],
    [[0.9,-0.05],[1.1,-0.25],[1.3,-0.4],[1.5,-0.5],[1.7,-0.6],[1.9,-0.75],[2.1,-0.9],[2.3,-1.1],[2.5,-1.3],[2.7,-1.5],[2.9,-1.7],[3.1,-1.85],[3.3,-2.05],[3.5,-2.2],[3.7,-2.35],[3.9,-2.55],[4.1,-2.7],[4.3,-2.8],[4.5,-2.85],[4.7,-2.95],[4.9,-3.0],[5.1,-3.1],[5.3,-3.2],[5.5,-3.25],[5.7,-3.3],[5.9,-3.45],[6.1,-3.6],[6.3,-3.7],[6.5,-3.75],[6.7,-3.7],[6.9,-3.75],[7.1,-3.8],[7.3,-3.75],[7.5,-3.85],[7.7,-4.05],[7.9,-4.35],[8.1,-4.35],[8.3,-4.45],[8.55,-4.6]],
    [[1.0,-0.2],[1.2,-0.35],[1.4,-0.45],[1.6,-0.55],[1.8,-0.65],[2.0,-0.75],[2.2,-0.9],[2.4,-1.05],[2.6,-1.2],[2.8,-1.35],[3.0,-1.5],[3.2,-1.65],[3.4,-1.8],[3.6,-1.95],[3.8,-2.05],[4.0,-2.15],[4.2,-2.25],[4.4,-2.3],[4.6,-2.4],[4.8,-2.45],[5.0,-2.5],[5.2,-2.6],[5.4,-2.65],[5.6,-2.75],[5.8,-2.8],[6.0,-2.9],[6.2,-2.95],[6.4,-3.05],[6.6,-3.1],[6.8,-3.2],[7.0,-3.0],[7.2,-2.95],[7.4,-3.3],[7.6,-3.05],[7.8,-2.95],[8.0,-3.3],[8.2,-3.05],[8.35,-2.9],[8.55,-3.11]]
];

var FONT = '"Liberation Sans", Arial, Helvetica, sans-serif';
var INK = '#231f20';

var lineStyles = {
    red:   {color: '#ed1c24', width: 2.2, type: 'solid'},
    green: {color: '#45795a', width: 2.3, type: [13, 7]},
    blue:  {color: '#2b2e98', width: 2.1, type: [3, 2.5]}
};

// one entry per panel: grid box and axis ranges
var panels = [
    {grid: {left: 92, top: 23, width: 477, height: 376}, xMax: 5, yMin: -5, yMax: 2, yStep: 1, xLabelEvery: 1,
        lines: [c2f1f2Green, c2f1f2Blue, c2f1f2Red]},
    {grid: {left: 658, top: 23, width: 465, height: 376}, xMax: 8.8, yMin: -7, yMax: 2, yStep: 1, xLabelEvery: 2,
        lines: [c2f2f1Green, c2f2f1Blue, c2f2f1Red]},
    {grid: {left: 94, top: 480, width: 477, height: 376}, xMax: 5, yMin: -4, yMax: 1, yStep: 0.5, xLabelEvery: 1,
        lines: [g2f1f2Green, g2f1f2Blue, g2f1f2Red]},
    {grid: {left: 658, top: 480, width: 465, height: 376}, xMax: 8.8, yMin: -5, yMax: 2, yStep: 1, xLabelEvery: 2,
        lines: [g2f2f1Green, g2f2f1Blue, g2f2f1Red]}
];
var groupStyle = [lineStyles.green, lineStyles.blue, lineStyles.red];
var groupName = [ratios[1], ratios[2], ratios[0]];

var axisText = {fontSize: 22, fontWeight: 'bold', color: INK, fontFamily: FONT};

var grids = [], xAxes = [], yAxes = [], series = [];
panels.forEach(function (p, i) {
    grids.push(p.grid);
    xAxes.push({
        type: 'value', gridIndex: i, min: 0, max: p.xMax, interval: 1,
        splitLine: {show: false},
        axisLine: {onZero: false, lineStyle: {color: INK, width: 1.5}},
        axisTick: {inside: true, length: 5, lineStyle: {color: INK, width: 1}},
        axisLabel: Object.assign({
            margin: 5, showMaxLabel: true,
            formatter: function (v) {
                return (Math.abs(v - Math.round(v)) < 1e-6 && Math.round(v) % p.xLabelEvery === 0) ? String(Math.round(v)) : '';
            }
        }, axisText)
    });
    yAxes.push({
        type: 'value', gridIndex: i, min: p.yMin, max: p.yMax, interval: p.yStep,
        splitLine: {show: false},
        axisLine: {onZero: false, lineStyle: {color: INK, width: 1.5}},
        axisTick: {inside: true, length: 5, lineStyle: {color: INK, width: 1}},
        axisLabel: Object.assign({
            margin: 7,
            formatter: function (v) {
                return (Math.abs(v - Math.round(v)) < 1e-6 && Math.round(v) % 2 === 0) ? String(Math.round(v)) : '';
            }
        }, axisText)
    });
    p.lines.forEach(function (group, g) {
        var st = groupStyle[g];
        group.forEach(function (pts) {
            series.push({
                type: 'line', name: groupName[g], xAxisIndex: i, yAxisIndex: i,
                data: pts, symbol: 'none', showSymbol: false, silent: true,
                lineStyle: {color: st.color, width: st.width, type: st.type},
                itemStyle: {color: st.color}
            });
        });
    });
});

function label(text, x, y, size, align, rotation) {
    return {
        type: 'text', x: x, y: y, rotation: rotation || 0, silent: true,
        style: {text: text, fill: INK, font: 'bold ' + size + 'px ' + FONT,
            textAlign: align, textVerticalAlign: 'middle', align: align, verticalAlign: 'middle'}
    };
}

var chart = echarts.init(document.getElementById('chart'), null, {renderer: 'canvas'});
chart.setOption({
    animation: false,
    backgroundColor: '#fff',
    grid: grids,
    xAxis: xAxes,
    yAxis: yAxes,
    series: series,
    legend: {
        data: ratios, orient: 'vertical', left: 924, top: 462,
        itemWidth: 82, itemHeight: 14, itemGap: 8,
        padding: [7, 26, 7, 12],
        borderColor: INK, borderWidth: 1.5, backgroundColor: '#fff',
        selectedMode: false,
        itemStyle: {opacity: 0},
        lineStyle: {width: 3},
        textStyle: {fontSize: 27, fontWeight: 'bold', color: INK, fontFamily: FONT, padding: [0, 0, 0, 12]}
    },
    graphic: [
        label('2f1-f2', 532, 30, 33, 'right'),
        label('2f2-f1', 1100, 30, 33, 'right'),
        label('CHICKEN', 109, 366, 28, 'left'),
        label('GECKO', 119, 827, 28, 'left'),
        label('Phase [cycles]', 27, 423, 26, 'center', Math.PI / 2),
        label('Emission Frequency [kHz]', 570, 910, 29, 'center')
    ]
});
</script>
</body>
</html>
